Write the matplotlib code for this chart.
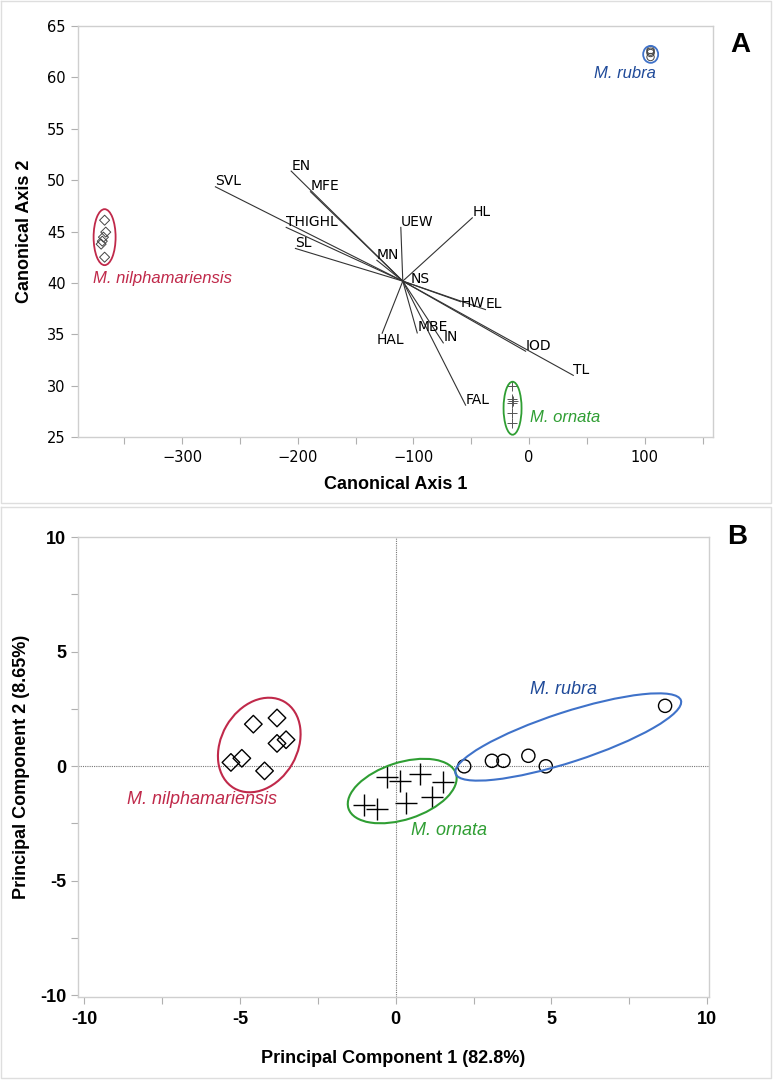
import matplotlib
matplotlib.use("Agg")
import matplotlib.pyplot as plt
from matplotlib.patches import Ellipse
from matplotlib.transforms import ScaledTranslation
from matplotlib.lines import Line2D

# ---------------- Panel A data (canonical analysis) ----------------
vec_origin = (-109.2, 40.17)
vec_names = ["SVL", "EN", "MFE", "THIGHL", "SL", "UEW", "HL", "MN", "NS",
             "HW", "EL", "IOD", "TL", "FAL", "HAL", "MBE", "IN"]
vec_x = [-271.2, -205.7, -189.0, -210.0, -202.0, -110.9, -49.1, -131.6, -102.5,
         -59.3, -37.7, -3.0, 38.2, -54.9, -127.0, -96.7, -74.2]
vec_y = [49.35, 50.88, 48.87, 45.4, 43.35, 45.4, 46.33, 42.2, 39.8,
         38.17, 37.4, 33.35, 31.0, 28.1, 35.1, 35.13, 34.16]

a_nil_x = [-367, -366, -368, -369, -370, -367]
a_nil_y = [46.1, 44.94, 44.45, 44.06, 43.77, 42.5]
a_rub_x = [105, 105, 105, 105]
a_rub_y = [62.66, 62.5, 62.37, 61.98]
a_orn_x = [-15, -15, -14, -15, -15, -15]
a_orn_y = [29.95, 28.68, 28.49, 28.29, 27.32, 26.35]

a_xticks = [-300, -200, -100, 0, 100]
a_yticks = [25, 30, 35, 40, 45, 50, 55, 60, 65]

# ---------------- Panel B data (PCA) ----------------
b_nil_x = [-4.57, -3.81, -3.81, -3.52, -5.29, -4.94, -4.21]
b_nil_y = [1.83, 2.10, 0.99, 1.15, 0.16, 0.34, -0.21]
b_orn_x = [-0.28, 0.14, 0.79, 1.52, -1.01, -0.60, 0.34, 1.16]
b_orn_y = [-0.49, -0.64, -0.35, -0.69, -1.70, -1.88, -1.59, -1.37]
b_rub_x = [2.20, 3.09, 3.46, 4.26, 4.82, 8.65]
b_rub_y = [-0.01, 0.23, 0.23, 0.45, -0.01, 2.63]

b_ticks = [-10, -5, 0, 5, 10]

RED = "#c0294a"
GREEN = "#2f9e33"
BLUE_T = "#1f4a99"
BLUE_E = "#3f72c9"
FRAME = "#cfcfcf"
BOLD_FONT = ["Liberation Sans Narrow", "Liberation Sans", "DejaVu Sans"]

fig = plt.figure(figsize=(7.74, 10.8), dpi=100)
W, H = 774, 1080

def px_ellipse(ax, cx, cy, wpx, hpx, angle, color, lw=1.3):
    tr = fig.dpi_scale_trans + ScaledTranslation(cx, cy, ax.transData)
    e = Ellipse((0, 0), wpx / 100, hpx / 100, angle=angle, transform=tr,
                fill=False, edgecolor=color, lw=lw, zorder=5)
    ax.add_patch(e)

# panel boxes
for (x0, y0, x1, y1) in [(1, 1, 771, 503), (1, 507, 771, 1078)]:
    fig.add_artist(Line2D([x0 / W, x1 / W, x1 / W, x0 / W, x0 / W],
                          [1 - y0 / H, 1 - y0 / H, 1 - y1 / H, 1 - y1 / H, 1 - y0 / H],
                          color="#dedede", lw=1.0, transform=fig.transFigure))

def style_axes(ax):
    for s in ax.spines.values():
        s.set_color(FRAME)
        s.set_linewidth(1.0)
    ax.tick_params(which="both", direction="out", color="#b0b0b0", width=0.8)
    ax.tick_params(which="major", length=5)
    ax.tick_params(which="minor", length=5)

# ---------------- Panel A ----------------
axA = fig.add_axes([78 / W, 1 - 437 / H, (713 - 78) / W, (437 - 26) / H])
style_axes(axA)
axA.set_xlim(-390, 159)
axA.set_ylim(25, 65)
axA.set_xticks(a_xticks)
axA.set_xticks([-350, -250, -150, -50, 50, 150], minor=True)
axA.set_yticks(a_yticks)
axA.tick_params(labelsize=11, pad=4)
axA.set_xticklabels([f"\u2212{abs(v)}" if v < 0 else str(v) for v in a_xticks])
for lab in axA.get_xticklabels() + axA.get_yticklabels():
    lab.set_family("DejaVu Sans")
    lab.set_fontsize(10.5)

ox, oy = vec_origin
for name, x, y in zip(vec_names, vec_x, vec_y):
    axA.plot([ox, x], [oy, y], color="#333333", lw=0.8, zorder=2)
    if name == "HAL":
        off = (-4, -5)
    elif name == "HW":
        off = (0, -1)
    else:
        off = (0, 4)
    axA.annotate(name, (x, y), xytext=off, textcoords="offset points",
                 ha="left", va="center", fontsize=10, family="DejaVu Sans")

axA.scatter(a_nil_x, a_nil_y, marker="D", s=26, facecolors="none",
            edgecolors="#444444", linewidths=0.7, zorder=4)
axA.scatter(a_rub_x, a_rub_y, marker="o", s=28, facecolors="none",
            edgecolors="#444444", linewidths=0.7, zorder=4)
axA.scatter(a_orn_x, a_orn_y, marker="+", s=50, color="#555555",
            linewidths=0.7, zorder=4)

px_ellipse(axA, -367, 44.45, 22, 56, 0, RED)
px_ellipse(axA, 105.1, 62.24, 15, 17, 0, BLUE_E)
px_ellipse(axA, -14.3, 27.8, 18, 53, 0, GREEN)

axA.text(-376.7, 40.4, "M. nilphamariensis", color=RED, style="italic",
         fontsize=12, ha="left", va="center", family="Liberation Sans")
axA.text(110, 60.4, "M. rubra", color=BLUE_T, style="italic",
         fontsize=12, ha="right", va="center", family="Liberation Sans")
axA.text(1.0, 26.9, "M. ornata", color=GREEN, style="italic",
         fontsize=12, ha="left", va="center", family="Liberation Sans")

axA.set_xlabel("Canonical Axis 1", fontsize=13, fontweight="bold",
               family=BOLD_FONT, labelpad=8)
axA.set_ylabel("Canonical Axis 2", fontsize=13, fontweight="bold",
               family=BOLD_FONT, labelpad=10)
fig.text(740 / W, 1 - 45 / H, "A", fontsize=20, fontweight="bold",
         family="Liberation Sans", ha="center", va="center")

# ---------------- Panel B ----------------
axB = fig.add_axes([78 / W, 1 - 997 / H, (709 - 78) / W, (997 - 537) / H])
style_axes(axB)
axB.set_xlim(-10.2, 10.06)
axB.set_ylim(-10.08, 10)
axB.set_xticks(b_ticks)
axB.set_yticks(b_ticks)
axB.set_xticks([-7.5, -2.5, 2.5, 7.5], minor=True)
axB.set_yticks([-7.5, -2.5, 2.5, 7.5], minor=True)
axB.set_xticklabels([str(v) for v in b_ticks])
axB.set_yticklabels([str(v) for v in b_ticks])
for lab in axB.get_xticklabels() + axB.get_yticklabels():
    lab.set_family(BOLD_FONT)
    lab.set_fontweight("bold")
    lab.set_fontsize(13)
axB.tick_params(axis="x", pad=5)

axB.axvline(0, color="#777777", lw=0.8, ls=(0, (1, 1)), zorder=1)
axB.axhline(0, color="#777777", lw=0.8, ls=(0, (1, 1)), zorder=1)

axB.scatter(b_nil_x, b_nil_y, marker="D", s=80, facecolors="none",
            edgecolors="black", linewidths=1.0, zorder=4)
axB.scatter(b_orn_x, b_orn_y, marker="+", s=260, color="black",
            linewidths=1.0, zorder=4)
axB.scatter(b_rub_x, b_rub_y, marker="o", s=90, facecolors="none",
            edgecolors="black", linewidths=1.0, zorder=4)

px_ellipse(axB, -4.38, 0.92, 100, 76, 60, RED, lw=1.5)
px_ellipse(axB, 0.21, -1.09, 113, 57, 18, GREEN, lw=1.5)
px_ellipse(axB, 5.54, 1.27, 237, 50, 18, BLUE_E, lw=1.5)

axB.text(-8.62, -1.48, "M. nilphamariensis", color=RED, style="italic",
         fontsize=13, ha="left", va="center", family="Liberation Sans")
axB.text(0.5, -2.8, "M. ornata", color=GREEN, style="italic",
         fontsize=13, ha="left", va="center", family="Liberation Sans")
axB.text(4.32, 3.36, "M. rubra", color=BLUE_T, style="italic",
         fontsize=13, ha="left", va="center", family="Liberation Sans")

axB.set_xlabel("Principal Component 1 (82.8%)", fontsize=13, fontweight="bold",
               family=BOLD_FONT, labelpad=16)
axB.set_ylabel("Principal Component 2 (8.65%)", fontsize=13, fontweight="bold",
               family=BOLD_FONT, labelpad=7)
fig.text(737 / W, 1 - 537 / H, "B", fontsize=20, fontweight="bold",
         family="Liberation Sans", ha="center", va="center")

fig.savefig("out.png", dpi=100)
